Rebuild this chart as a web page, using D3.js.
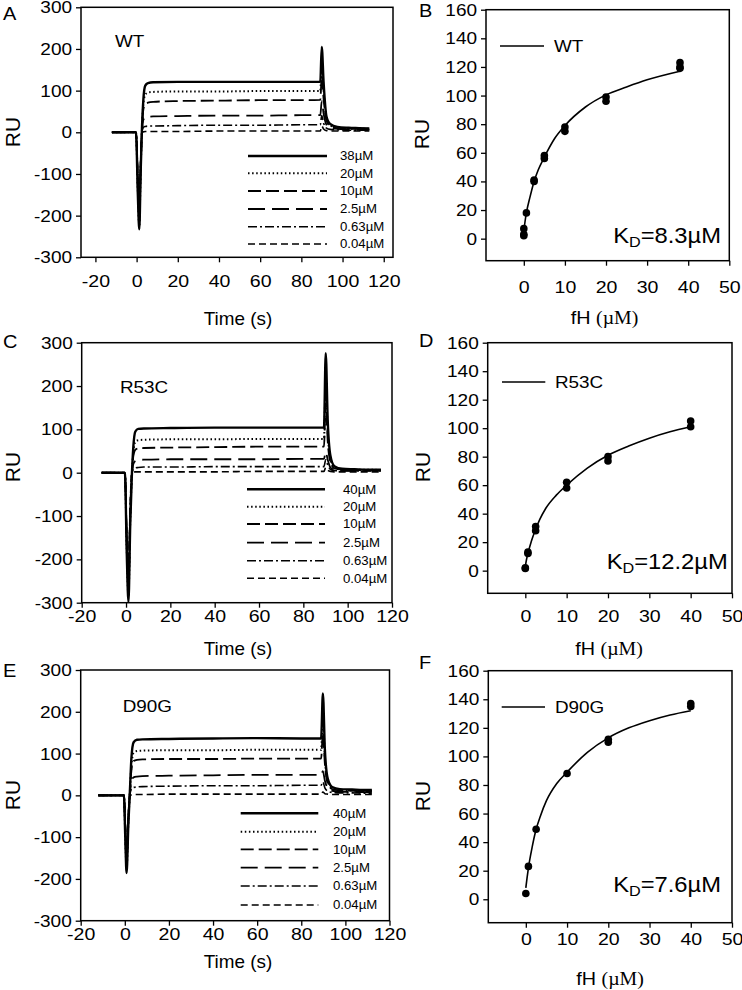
<!DOCTYPE html>
<html lang="en">
<head>
<meta charset="utf-8">
<title>fH binding - SPR sensorgrams</title>
<script src="https://d3js.org/d3.v7.min.js"></script>
<style>
body { margin: 0; background: #fff; }
svg { display: block; font-family: "Liberation Sans", Arial, sans-serif; }
</style>
</head>
<body>
<svg width="742" height="990"></svg>
<script>
// ---- sensorgram data (time in s, response in RU) ----
var wtLabels = ["38µM", "20µM", "10µM", "2.5µM", "0.63µM", "0.04µM"];
var mutLabels = ["40µM", "20µM", "10µM", "2.5µM", "0.63µM", "0.04µM"];

var timeA = [-12, -0.3, 0.6, 1.3, 2.0, 2.6, 3.3, 4.2, 5.5, 8, 20, 40, 60, 80, 89.2, 89.9, 90.8, 92.2, 94, 97.5, 103, 108, 113];
var wtRU38   = [0, 0, -150, -233, -90, 10, 80, 112, 118, 120, 121, 121, 121, 121, 121, 205, 120, 38, 20, 13, 11, 10, 9];
var wtRU20   = [0, 0, -140, -225, -85, 5, 70, 90, 95, 97, 98, 98, 99, 99, 99, 165, 100, 33, 17, 11, 9, 9, 8];
var wtRU10   = [0, 0, -130, -215, -80, 4, 55, 68, 71, 73, 75, 76, 77, 77, 78, 135, 80, 28, 15, 10, 8, 8, 7];
var wtRU2p5  = [0, 0, -120, -205, -75, 3, 30, 36, 37, 38, 39, 40, 40, 41, 41, 75, 45, 18, 11, 8, 7, 6, 6];
var wtRU0p63 = [0, 0, -110, -195, -70, 2, 12, 14, 15, 15, 16, 17, 17, 18, 18, 40, 22, 10, 7, 6, 5, 5, 5];
var wtRU0p04 = [0, 0, -100, -185, -65, 0, 1, 2, 2, 2, 2, 3, 3, 3, 3, 15, 8, 4, 3, 3, 3, 3, 3];

var timeC = [-11, -0.5, 0.3, 1.1, 1.9, 2.6, 3.3, 4.2, 5.5, 8, 20, 40, 60, 80, 89.3, 90.1, 91, 92.2, 94, 97.5, 103, 109, 115];
var r53cRU40   = [0, 0, -180, -298, -120, -10, 60, 95, 101, 102, 103, 104, 104, 104, 104, 276, 120, 40, 15, 9, 8, 7, 7];
var r53cRU20   = [0, 0, -170, -285, -110, -9, 48, 71, 75, 76, 77, 77, 78, 78, 78, 210, 95, 30, 12, 8, 7, 7, 6];
var r53cRU10   = [0, 0, -160, -270, -100, -8, 38, 53, 56, 57, 58, 59, 60, 60, 60, 160, 72, 25, 10, 7, 6, 6, 5];
var r53cRU2p5  = [0, 0, -150, -255, -90, -6, 20, 27, 29, 30, 31, 31, 31, 32, 32, 48, 30, 12, 7, 5, 5, 5, 5];
var r53cRU0p63 = [0, 0, -140, -240, -80, -5, 8, 11, 12, 13, 13, 14, 14, 14, 14, 30, 18, 8, 5, 4, 4, 4, 4];
var r53cRU0p04 = [0, 0, -130, -225, -70, -4, 1, 2, 2, 2, 2, 2, 3, 3, 3, 12, 6, 3, 2, 2, 2, 2, 2];

var timeE = [-12, -0.4, 0.2, 0.8, 1.6, 2.3, 3.0, 4.0, 5.5, 8, 20, 40, 60, 80, 89.0, 89.8, 90.7, 92, 94, 97.5, 103, 108, 112];
var d90gRU40   = [0, 0, -100, -186, -70, 10, 90, 127, 133, 134, 135, 136, 137, 136, 136, 244, 110, 40, 20, 15, 14, 13, 13];
var d90gRU20   = [0, 0, -95, -175, -65, 8, 72, 102, 106, 107, 108, 108, 109, 109, 109, 190, 90, 32, 17, 13, 12, 11, 11];
var d90gRU10   = [0, 0, -90, -165, -60, 6, 60, 82, 85, 86, 87, 87, 88, 88, 88, 150, 75, 28, 15, 12, 11, 10, 10];
var d90gRU2p5  = [0, 0, -80, -150, -55, 4, 35, 43, 45, 46, 47, 48, 49, 49, 49, 58, 35, 17, 11, 9, 8, 8, 7];
var d90gRU0p63 = [0, 0, -70, -135, -50, 2, 15, 19, 20, 21, 22, 23, 23, 24, 24, 32, 18, 10, 7, 6, 6, 5, 5];
var d90gRU0p04 = [0, 0, -60, -120, -45, 0, 1, 2, 2, 2, 3, 3, 3, 3, 3, 8, 4, 3, 2, 2, 2, 2, 2];

// ---- steady-state binding data (fH in µM, RU) ----
var wtConc  = [0, 0, 0, 0.63, 2.5, 2.5, 5, 5, 10, 10, 20, 20, 38, 38, 38];
var wtBound = [2, 3, 7, 18, 40, 41, 56, 58, 75, 78, 96, 99, 119, 120, 123];
var wtFitConc = [0, 0.3, 0.63, 1.5, 2.5, 3.5, 5, 7.5, 10, 15, 20, 25, 30, 38];
var wtFitRU   = [5, 12, 18, 29, 40, 48, 57, 70, 79, 92, 100.5, 106, 111, 117];

var r53cConc  = [0, 0, 0.63, 0.63, 2.5, 2.5, 10, 10, 20, 20, 40, 40];
var r53cBound = [1.5, 2, 12, 13, 28, 31, 58, 62, 77, 80, 101, 105];
var r53cFitConc = [0, 0.3, 0.63, 1.5, 2.5, 3.5, 5, 7.5, 10, 15, 20, 25, 30, 35, 40];
var r53cFitRU   = [3, 8, 12, 21, 29, 36, 44, 53, 60, 72, 81, 87.5, 93, 97.5, 101];

var d90gConc  = [0, 0.63, 2.5, 10, 20, 20, 40, 40];
var d90gBound = [4, 23, 49, 88, 110, 112, 135, 137];
var d90gFitConc = [0, 0.3, 0.63, 1.5, 2.5, 3.5, 5, 7.5, 10, 15, 20, 25, 30, 35, 40];
var d90gFitRU   = [8, 15, 22, 36, 49, 58, 69, 81, 89, 103, 113, 120, 125, 129, 132];

var sensorXTicks = [-20, 0, 20, 40, 60, 80, 100, 120];
var sensorYTicks = [-300, -200, -100, 0, 100, 200, 300];
var bindXTicks = [0, 10, 20, 30, 40, 50];
var bindYTicks = [0, 20, 40, 60, 80, 100, 120, 140, 160];

// line pattern for each concentration, top to bottom
var lineStyles = [
  {dash: null, w: 2.4},
  {dash: "1.5,2.6", w: 2},
  {dash: "13,5", w: 1.8},
  {dash: "17,7", w: 1.8},
  {dash: "9,3,2,3", w: 1.6},
  {dash: "7,4", w: 1.6}
];

var svg = d3.select("svg");
var FONT = "'Liberation Sans', Arial, sans-serif";
var plain = function(d) { return String(d); };   // keep the ascii hyphen on negatives

function stretchText(g, x, y, str, size, anchor, sx) {
  return g.append("text")
    .attr("transform", "translate(" + x + "," + y + ") scale(" + sx + ",1)")
    .attr("text-anchor", anchor)
    .attr("font-size", size)
    .text(str);
}

function styleAxis(sel, sx, size) {
  sel.select(".domain").remove();
  sel.selectAll(".tick line").attr("stroke", "#000").attr("stroke-width", 1.3);
  sel.selectAll(".tick text")
    .attr("fill", "#000")
    .attr("font-size", size)
    .attr("font-family", FONT)
    .attr("transform", "scale(" + sx + ",1)");
}

function frameAndAxes(p, x, y, xTicks, yTicks) {
  var f = p.frame;
  svg.append("g")
      .attr("transform", "translate(0," + f.y1 + ")")
      .call(d3.axisBottom(x).tickValues(xTicks).tickFormat(plain)
              .tickSize(5).tickSizeOuter(0).tickPadding(p.xPad))
      .call(styleAxis, 1.15, 17);
  svg.append("g")
      .attr("transform", "translate(" + f.x0 + ",0)")
      .call(d3.axisLeft(y).tickValues(yTicks).tickFormat(plain)
              .tickSize(5).tickSizeOuter(0).tickPadding(3))
      .call(styleAxis, 1.12, 17);
  svg.append("rect")
      .attr("x", f.x0).attr("y", f.y0)
      .attr("width", f.x1 - f.x0).attr("height", f.y1 - f.y0)
      .attr("fill", "none").attr("stroke", "#000").attr("stroke-width", 1.5);

  stretchText(svg, p.letterPos[0], p.letterPos[1], p.letter, 19, "start", 1.05);
  svg.append("text")
      .attr("transform", "translate(" + p.ruPos[0] + "," + p.ruPos[1] + ") rotate(-90)")
      .attr("text-anchor", "middle").attr("dy", "0.36em")
      .attr("font-size", 21).text("RU");
}

// ---- left column: sensorgrams ----
var sensorPanels = [
  {letter: "A", name: "WT", time: timeA, series: [wtRU38, wtRU20, wtRU10, wtRU2p5, wtRU0p63, wtRU0p04], labels: wtLabels,
   frame: {x0: 81, x1: 393, y0: 7.3, y1: 257.3}, xDomain: [-27, 124.5], xPad: 13,
   letterPos: [3, 20], ruPos: [12, 132], namePos: [115, 46.7], titleY: 325,
   legend: {x0: 248, x1: 327, tx: 340, rows: [156, 173.3, 191, 209, 226.7, 244]}},
  {letter: "C", name: "R53C", time: timeC, series: [r53cRU40, r53cRU20, r53cRU10, r53cRU2p5, r53cRU0p63, r53cRU0p04], labels: mutLabels,
   frame: {x0: 81.7, x1: 392, y0: 342.7, y1: 602.7}, xDomain: [-20, 120], xPad: 2,
   letterPos: [3, 348], ruPos: [12.5, 467], namePos: [120, 393], titleY: 655,
   legend: {x0: 247, x1: 325, tx: 343, rows: [489.3, 506.7, 524, 542.7, 560.7, 578.3]}},
  {letter: "E", name: "D90G", time: timeE, series: [d90gRU40, d90gRU20, d90gRU10, d90gRU2p5, d90gRU0p63, d90gRU0p04], labels: mutLabels,
   frame: {x0: 80.7, x1: 389.5, y0: 670, y1: 920.7}, xDomain: [-20, 120], xPad: 2,
   letterPos: [3, 677], ruPos: [12, 795], namePos: [122.7, 712], titleY: 968,
   legend: {x0: 240.7, x1: 318.3, tx: 333, rows: [813.3, 831.7, 849.3, 867.7, 886, 905]}}
];

sensorPanels.forEach(function(p, i) {
  var f = p.frame;
  var x = d3.scaleLinear().domain(p.xDomain).range([f.x0, f.x1]);
  var y = d3.scaleLinear().domain([-300, 300]).range([f.y1, f.y0]);

  var clipId = "clip-s" + i;
  svg.append("clipPath").attr("id", clipId)
    .append("rect").attr("x", f.x0).attr("y", f.y0)
    .attr("width", f.x1 - f.x0).attr("height", f.y1 - f.y0);

  var line = d3.line()
      .x(function(d) { return x(d[0]); })
      .y(function(d) { return y(d[1]); })
      .curve(d3.curveMonotoneX);

  var g = svg.append("g").attr("clip-path", "url(#" + clipId + ")");
  // lowest concentration first so the solid top curve sits on top
  p.series.slice().reverse().forEach(function(vals, k) {
    var st = lineStyles[p.series.length - 1 - k];
    g.append("path")
        .datum(p.time.map(function(t, j) { return [t, vals[j]]; }))
        .attr("fill", "none")
        .attr("stroke", "#000")
        .attr("stroke-width", st.w)
        .attr("stroke-dasharray", st.dash)
        .attr("stroke-linejoin", "round")
        .attr("d", line);
  });

  frameAndAxes(p, x, y, sensorXTicks, sensorYTicks);

  stretchText(svg, p.namePos[0], p.namePos[1], p.name, 16, "start", 1.18);
  stretchText(svg, 238, p.titleY, "Time (s)", 18, "middle", 1.05);

  var lg = p.legend;
  p.labels.forEach(function(lab, k) {
    var st = lineStyles[k];
    svg.append("line")
        .attr("x1", lg.x0).attr("x2", lg.x1)
        .attr("y1", lg.rows[k]).attr("y2", lg.rows[k])
        .attr("stroke", "#000").attr("stroke-width", st.w)
        .attr("stroke-dasharray", st.dash);
    stretchText(svg, lg.tx, lg.rows[k], lab, 12, "start", 1.1).attr("dy", "0.36em");
  });
});

// ---- right column: binding isotherms ----
var bindPanels = [
  {letter: "B", name: "WT", conc: wtConc, bound: wtBound, fitX: wtFitConc, fitY: wtFitRU, kd: "8.3µM",
   frame: {x0: 486, x1: 729.3, y0: 9.7, y1: 260.7}, xDomain: [-9.2, 50], yDomain: [-15.4, 160], xPad: 15,
   letterPos: [419, 17], ruPos: [421, 134], titleX: 604.5, titleY: 324,
   legend: {x0: 500, x1: 544, tx: 554, y: 46}, kdPos: [721, 242.7]},
  {letter: "D", name: "R53C", conc: r53cConc, bound: r53cBound, fitX: r53cFitConc, fitY: r53cFitRU, kd: "12.2µM",
   frame: {x0: 487.7, x1: 732, y0: 342.7, y1: 593.3}, xDomain: [-9.1, 50], yDomain: [-15.9, 160], xPad: 12,
   letterPos: [419, 347], ruPos: [422, 467], titleX: 609, titleY: 655,
   legend: {x0: 502, x1: 545.3, tx: 555, y: 382}, kdPos: [727.7, 569]},
  {letter: "F", name: "D90G", conc: d90gConc, bound: d90gBound, fitX: d90gFitConc, fitY: d90gFitRU, kd: "7.6µM",
   frame: {x0: 488.3, x1: 732, y0: 670.7, y1: 922.7}, xDomain: [-9.1, 50], yDomain: [-16.4, 160], xPad: 5,
   letterPos: [419, 669], ruPos: [422, 796], titleX: 610, titleY: 985,
   legend: {x0: 501.7, x1: 545, tx: 555, y: 707}, kdPos: [721, 891.7]}
];

bindPanels.forEach(function(p) {
  var f = p.frame;
  var x = d3.scaleLinear().domain(p.xDomain).range([f.x0, f.x1]);
  var y = d3.scaleLinear().domain(p.yDomain).range([f.y1, f.y0]);

  var fit = d3.line()
      .x(function(d) { return x(d[0]); })
      .y(function(d) { return y(d[1]); })
      .curve(d3.curveMonotoneX);

  svg.append("path")
      .datum(p.fitX.map(function(c, j) { return [c, p.fitY[j]]; }))
      .attr("fill", "none").attr("stroke", "#000").attr("stroke-width", 1.6)
      .attr("d", fit);

  svg.append("g").selectAll("circle")
      .data(p.conc.map(function(c, j) { return [c, p.bound[j]]; }))
      .enter().append("circle")
      .attr("cx", function(d) { return x(d[0]); })
      .attr("cy", function(d) { return y(d[1]); })
      .attr("r", 3.8)
      .attr("fill", "#000");

  frameAndAxes(p, x, y, bindXTicks, bindYTicks);

  // axis title: "fH" sans, "(µM)" serif
  var t = svg.append("text")
      .attr("transform", "translate(" + p.titleX + "," + p.titleY + ") scale(1.1,1)")
      .attr("text-anchor", "middle").attr("font-size", 18);
  t.append("tspan").text("fH ");
  t.append("tspan").attr("font-family", "'Liberation Serif', 'Times New Roman', serif").text("(µM)");

  var lg = p.legend;
  svg.append("line")
      .attr("x1", lg.x0).attr("x2", lg.x1).attr("y1", lg.y).attr("y2", lg.y)
      .attr("stroke", "#000").attr("stroke-width", 1.6);
  stretchText(svg, lg.tx, lg.y, p.name, 16, "start", 1.18).attr("dy", "0.36em");

  var k = svg.append("text")
      .attr("transform", "translate(" + p.kdPos[0] + "," + p.kdPos[1] + ") scale(1.08,1)")
      .attr("text-anchor", "end").attr("font-size", 22);
  k.append("tspan").text("K");
  k.append("tspan").attr("font-size", 15).attr("dy", 4).text("D");
  k.append("tspan").attr("dy", -4).text("=" + p.kd);
});
</script>
</body>
</html>
